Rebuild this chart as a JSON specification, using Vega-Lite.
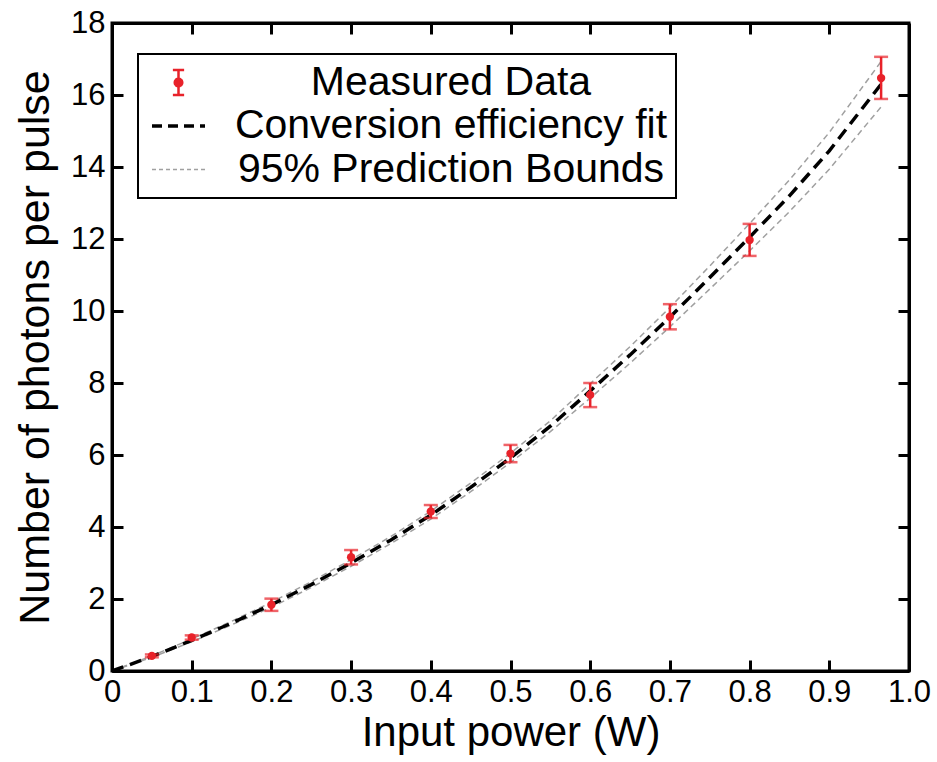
{
  "$schema": "https://vega.github.io/schema/vega-lite/v6.json",
  "width": 797,
  "height": 648,
  "autosize": "none",
  "padding": {"left": 112, "top": 23, "right": 28, "bottom": 91},
  "background": "white",
  "config": {
    "view": {"stroke": "black", "strokeWidth": 3},
    "font": "Liberation Sans",
    "axis": {
      "grid": false,
      "domainColor": "black",
      "domainWidth": 3,
      "tickColor": "black",
      "tickWidth": 3,
      "tickSize": -11,
      "labelFont": "Liberation Sans",
      "labelFontSize": 31,
      "labelColor": "black",
      "titleFont": "Liberation Sans",
      "titleFontSize": 42,
      "titleFontWeight": "normal",
      "titleColor": "black"
    }
  },
  "datasets": {
    "points": [
      {"x": 0.05, "y": 0.42, "lo": 0.38, "hi": 0.46, "series": "Measured Data"},
      {"x": 0.1, "y": 0.93, "lo": 0.87, "hi": 0.99, "series": "Measured Data"},
      {"x": 0.2, "y": 1.84, "lo": 1.67, "hi": 2.01, "series": "Measured Data"},
      {"x": 0.3, "y": 3.16, "lo": 2.96, "hi": 3.36, "series": "Measured Data"},
      {"x": 0.4, "y": 4.43, "lo": 4.25, "hi": 4.61, "series": "Measured Data"},
      {"x": 0.5, "y": 6.04, "lo": 5.8, "hi": 6.28, "series": "Measured Data"},
      {"x": 0.6, "y": 7.67, "lo": 7.33, "hi": 8.0, "series": "Measured Data"},
      {"x": 0.7, "y": 9.84, "lo": 9.49, "hi": 10.19, "series": "Measured Data"},
      {"x": 0.8, "y": 11.97, "lo": 11.53, "hi": 12.42, "series": "Measured Data"},
      {"x": 0.965, "y": 16.47, "lo": 15.89, "hi": 17.06, "series": "Measured Data"}
    ],
    "fit": [
      {"x": 0, "y": 0, "series": "Conversion efficiency fit"},
      {"x": 0.05, "y": 0.4, "series": "Conversion efficiency fit"},
      {"x": 0.1, "y": 0.85, "series": "Conversion efficiency fit"},
      {"x": 0.15, "y": 1.33, "series": "Conversion efficiency fit"},
      {"x": 0.2, "y": 1.84, "series": "Conversion efficiency fit"},
      {"x": 0.25, "y": 2.4, "series": "Conversion efficiency fit"},
      {"x": 0.3, "y": 3.0, "series": "Conversion efficiency fit"},
      {"x": 0.35, "y": 3.64, "series": "Conversion efficiency fit"},
      {"x": 0.4, "y": 4.33, "series": "Conversion efficiency fit"},
      {"x": 0.45, "y": 5.1, "series": "Conversion efficiency fit"},
      {"x": 0.5, "y": 5.92, "series": "Conversion efficiency fit"},
      {"x": 0.55, "y": 6.8, "series": "Conversion efficiency fit"},
      {"x": 0.6, "y": 7.78, "series": "Conversion efficiency fit"},
      {"x": 0.65, "y": 8.78, "series": "Conversion efficiency fit"},
      {"x": 0.7, "y": 9.83, "series": "Conversion efficiency fit"},
      {"x": 0.75, "y": 10.93, "series": "Conversion efficiency fit"},
      {"x": 0.8, "y": 12.05, "series": "Conversion efficiency fit"},
      {"x": 0.85, "y": 13.2, "series": "Conversion efficiency fit"},
      {"x": 0.9, "y": 14.45, "series": "Conversion efficiency fit"},
      {"x": 0.965, "y": 16.3, "series": "Conversion efficiency fit"}
    ],
    "bounds": [
      {"x": 0, "y": 0, "bound": "upper", "series": "95% Prediction Bounds"},
      {"x": 0.05, "y": 0.42, "bound": "upper", "series": "95% Prediction Bounds"},
      {"x": 0.1, "y": 0.89, "bound": "upper", "series": "95% Prediction Bounds"},
      {"x": 0.15, "y": 1.38, "bound": "upper", "series": "95% Prediction Bounds"},
      {"x": 0.2, "y": 1.91, "bound": "upper", "series": "95% Prediction Bounds"},
      {"x": 0.25, "y": 2.48, "bound": "upper", "series": "95% Prediction Bounds"},
      {"x": 0.3, "y": 3.09, "bound": "upper", "series": "95% Prediction Bounds"},
      {"x": 0.35, "y": 3.74, "bound": "upper", "series": "95% Prediction Bounds"},
      {"x": 0.4, "y": 4.44, "bound": "upper", "series": "95% Prediction Bounds"},
      {"x": 0.45, "y": 5.22, "bound": "upper", "series": "95% Prediction Bounds"},
      {"x": 0.5, "y": 6.05, "bound": "upper", "series": "95% Prediction Bounds"},
      {"x": 0.55, "y": 6.95, "bound": "upper", "series": "95% Prediction Bounds"},
      {"x": 0.6, "y": 7.98, "bound": "upper", "series": "95% Prediction Bounds"},
      {"x": 0.65, "y": 9.01, "bound": "upper", "series": "95% Prediction Bounds"},
      {"x": 0.7, "y": 10.1, "bound": "upper", "series": "95% Prediction Bounds"},
      {"x": 0.75, "y": 11.25, "bound": "upper", "series": "95% Prediction Bounds"},
      {"x": 0.8, "y": 12.43, "bound": "upper", "series": "95% Prediction Bounds"},
      {"x": 0.85, "y": 13.64, "bound": "upper", "series": "95% Prediction Bounds"},
      {"x": 0.9, "y": 14.96, "bound": "upper", "series": "95% Prediction Bounds"},
      {"x": 0.965, "y": 16.93, "bound": "upper", "series": "95% Prediction Bounds"},
      {"x": 0, "y": 0, "bound": "lower", "series": "95% Prediction Bounds"},
      {"x": 0.05, "y": 0.38, "bound": "lower", "series": "95% Prediction Bounds"},
      {"x": 0.1, "y": 0.81, "bound": "lower", "series": "95% Prediction Bounds"},
      {"x": 0.15, "y": 1.28, "bound": "lower", "series": "95% Prediction Bounds"},
      {"x": 0.2, "y": 1.77, "bound": "lower", "series": "95% Prediction Bounds"},
      {"x": 0.25, "y": 2.32, "bound": "lower", "series": "95% Prediction Bounds"},
      {"x": 0.3, "y": 2.91, "bound": "lower", "series": "95% Prediction Bounds"},
      {"x": 0.35, "y": 3.54, "bound": "lower", "series": "95% Prediction Bounds"},
      {"x": 0.4, "y": 4.22, "bound": "lower", "series": "95% Prediction Bounds"},
      {"x": 0.45, "y": 4.98, "bound": "lower", "series": "95% Prediction Bounds"},
      {"x": 0.5, "y": 5.79, "bound": "lower", "series": "95% Prediction Bounds"},
      {"x": 0.55, "y": 6.65, "bound": "lower", "series": "95% Prediction Bounds"},
      {"x": 0.6, "y": 7.58, "bound": "lower", "series": "95% Prediction Bounds"},
      {"x": 0.65, "y": 8.55, "bound": "lower", "series": "95% Prediction Bounds"},
      {"x": 0.7, "y": 9.56, "bound": "lower", "series": "95% Prediction Bounds"},
      {"x": 0.75, "y": 10.61, "bound": "lower", "series": "95% Prediction Bounds"},
      {"x": 0.8, "y": 11.67, "bound": "lower", "series": "95% Prediction Bounds"},
      {"x": 0.85, "y": 12.76, "bound": "lower", "series": "95% Prediction Bounds"},
      {"x": 0.9, "y": 13.94, "bound": "lower", "series": "95% Prediction Bounds"},
      {"x": 0.965, "y": 15.67, "bound": "lower", "series": "95% Prediction Bounds"}
    ]
  },
  "layer": [
    {
      "data": {"name": "bounds"},
      "mark": {"type": "line", "strokeWidth": 1.5, "strokeDash": [6, 4], "clip": true},
      "encoding": {
        "x": {"field": "x", "type": "quantitative", "scale": {"domain": [0, 1], "nice": false},
          "axis": {"orient": "bottom", "title": "Input power (W)", "values": [0, 0.1, 0.2, 0.3, 0.4, 0.5, 0.6, 0.7, 0.8, 0.9, 1.0],
            "labelExpr": "datum.value === 0 ? '0' : format(datum.value, '.1f')", "labelPadding": 17, "titlePadding": 5, "labelFlush": false, "labelOverlap": false}},
        "y": {"field": "y", "type": "quantitative", "scale": {"domain": [0, 18], "nice": false},
          "axis": {"orient": "left", "title": "Number of photons per pulse", "titleFontSize": 43, "values": [0, 2, 4, 6, 8, 10, 12, 14, 16, 18], "labelPadding": 18, "titlePadding": 13, "labelFlush": false, "labelOverlap": false}},
        "detail": {"field": "bound"},
        "color": {
          "field": "series", "type": "nominal",
          "scale": {"domain": ["Measured Data", "Conversion efficiency fit", "95% Prediction Bounds"], "range": ["#e8222a", "#000000", "#a0a0a0"]},
          "legend": {
            "orient": "none", "legendX": 26, "legendY": 31,
            "title": null,
            "strokeColor": "black", "fillColor": "white", "padding": 8,
            "symbolOffset": 12,
            "symbolType": "stroke", "symbolSize": 2809, "symbolStrokeWidth": 3,
            "labelFont": "Liberation Sans", "labelFontSize": 41, "labelColor": "black",
            "labelAlign": "center", "labelOffset": 252, "labelLimit": 700,
            "rowPadding": 1.5,
            "encode": {
              "legend": {"update": {"strokeWidth": {"value": 2}}},
              "symbols": {"update": {
                "shape": {"signal": "datum.value === 'Measured Data' ? 'M0,-1V1M-0.45,-1H0.45M-0.45,1H0.45M-0.3,0A0.3,0.3 0 1,0 0.3,0A0.3,0.3 0 1,0 -0.3,0Z' : 'stroke'"},
                "size": {"signal": "datum.value === 'Measured Data' ? 625 : 2809"},
                "strokeDash": {"signal": "datum.value === 'Conversion efficiency fit' ? [10, 6] : datum.value === '95% Prediction Bounds' ? [4, 3] : [1, 0]"},
                "strokeWidth": {"signal": "datum.value === 'Conversion efficiency fit' ? 3.5 : datum.value === '95% Prediction Bounds' ? 1.5 : 2.5"},
                "fill": {"signal": "datum.value === 'Measured Data' ? '#e8222a' : 'transparent'"},
                "fillOpacity": {"value": 1},
                "opacity": {"value": 1},
                "stroke": {"signal": "datum.value === 'Measured Data' ? '#e8222a' : datum.value === 'Conversion efficiency fit' ? '#000000' : '#a0a0a0'"}
              }}
            }
          }
        }
      }
    },
    {
      "data": {"name": "fit"},
      "mark": {"type": "line", "strokeWidth": 3.5, "strokeDash": [12, 7]},
      "encoding": {
        "x": {"field": "x", "type": "quantitative", "axis": null},
        "y": {"field": "y", "type": "quantitative", "axis": null},
        "color": {"field": "series", "type": "nominal"}
      }
    },
    {
      "data": {"name": "points"},
      "mark": {"type": "rule", "strokeWidth": 2.5},
      "encoding": {
        "x": {"field": "x", "type": "quantitative", "axis": null},
        "y": {"field": "lo", "type": "quantitative", "axis": null},
        "y2": {"field": "hi"},
        "color": {"field": "series", "type": "nominal"}
      }
    },
    {
      "data": {"name": "points"},
      "mark": {"type": "tick", "orient": "horizontal", "size": 14, "thickness": 2.5},
      "encoding": {
        "x": {"field": "x", "type": "quantitative", "axis": null},
        "y": {"field": "lo", "type": "quantitative", "axis": null},
        "color": {"field": "series", "type": "nominal"}
      }
    },
    {
      "data": {"name": "points"},
      "mark": {"type": "tick", "orient": "horizontal", "size": 14, "thickness": 2.5},
      "encoding": {
        "x": {"field": "x", "type": "quantitative", "axis": null},
        "y": {"field": "hi", "type": "quantitative", "axis": null},
        "color": {"field": "series", "type": "nominal"}
      }
    },
    {
      "data": {"name": "points"},
      "mark": {"type": "circle", "size": 70, "opacity": 1},
      "encoding": {
        "x": {"field": "x", "type": "quantitative", "axis": null},
        "y": {"field": "y", "type": "quantitative", "axis": null},
        "color": {"field": "series", "type": "nominal"}
      }
    },
    {
      "data": {"name": "points"},
      "mark": {"type": "point", "opacity": 0},
      "encoding": {
        "x": {"field": "x", "type": "quantitative",
          "axis": {"orient": "top", "title": null, "labels": false, "values": [0.1, 0.2, 0.3, 0.4, 0.5, 0.6, 0.7, 0.8, 0.9]}},
        "y": {"field": "y", "type": "quantitative",
          "axis": {"orient": "right", "title": null, "labels": false, "values": [2, 4, 6, 8, 10, 12, 14, 16]}}
      }
    }
  ],
  "resolve": {"axis": {"x": "independent", "y": "independent"}}
}
